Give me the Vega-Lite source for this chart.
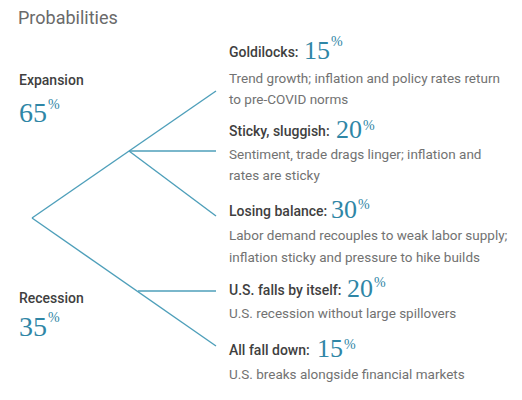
{
  "$schema": "https://vega.github.io/schema/vega-lite/v6.json",
  "width": 522,
  "height": 400,
  "autosize": {"type": "fit", "contains": "padding"},
  "padding": 0,
  "background": "white",
  "config": {"view": {"stroke": null}},
  "datasets": {
    "edges": [
      {"from": "root", "to": "Goldilocks", "x": 32, "y": 218, "x2": 216, "y2": 91},
      {"from": "Expansion", "to": "Sticky, sluggish", "x": 129, "y": 151, "x2": 216, "y2": 151},
      {"from": "Expansion", "to": "Losing balance", "x": 129, "y": 151, "x2": 216, "y2": 216},
      {"from": "root", "to": "All fall down", "x": 32, "y": 218, "x2": 216, "y2": 346},
      {"from": "Recession", "to": "U.S. falls by itself", "x": 138, "y": 291, "x2": 216, "y2": 291}
    ],
    "labels": [
      {"role": "title", "x": 18, "y": 24, "text": "Probabilities"},
      {"role": "branch", "x": 19, "y": 85, "text": "Expansion"},
      {"role": "branch", "x": 19, "y": 303, "text": "Recession"},
      {"role": "branchnum", "x": 19, "y": 122, "text": "65"},
      {"role": "branchnum", "x": 19, "y": 336, "text": "35"},
      {"role": "branchpct", "x": 48, "y": 109, "text": "%"},
      {"role": "branchpct", "x": 48, "y": 322, "text": "%"},
      {"role": "scen", "x": 229, "y": 57, "text": "Goldilocks:"},
      {"role": "scen", "x": 229, "y": 136, "text": "Sticky, sluggish:"},
      {"role": "scen", "x": 229, "y": 216, "text": "Losing balance:"},
      {"role": "scen", "x": 229, "y": 295, "text": "U.S. falls by itself:"},
      {"role": "scen", "x": 229, "y": 355, "text": "All fall down:"},
      {"role": "scennum", "x": 304, "y": 59, "text": "15"},
      {"role": "scennum", "x": 336, "y": 138, "text": "20"},
      {"role": "scennum", "x": 331, "y": 218, "text": "30"},
      {"role": "scennum", "x": 347, "y": 297, "text": "20"},
      {"role": "scennum", "x": 317, "y": 357, "text": "15"},
      {"role": "scenpct", "x": 331, "y": 46, "text": "%"},
      {"role": "scenpct", "x": 363, "y": 130, "text": "%"},
      {"role": "scenpct", "x": 358, "y": 209, "text": "%"},
      {"role": "scenpct", "x": 374, "y": 287, "text": "%"},
      {"role": "scenpct", "x": 344, "y": 349, "text": "%"},
      {"role": "desc", "x": 229, "y": 83, "text": "Trend growth; inflation and policy rates return"},
      {"role": "desc", "x": 229, "y": 104, "text": "to pre-COVID norms"},
      {"role": "desc", "x": 229, "y": 159, "text": "Sentiment, trade drags linger; inflation and"},
      {"role": "desc", "x": 229, "y": 180, "text": "rates are sticky"},
      {"role": "desc", "x": 229, "y": 240, "text": "Labor demand recouples to weak labor supply;"},
      {"role": "desc", "x": 229, "y": 262, "text": "inflation sticky and pressure to hike builds"},
      {"role": "desc", "x": 229, "y": 318, "text": "U.S. recession without large spillovers"},
      {"role": "desc", "x": 229, "y": 379, "text": "U.S. breaks alongside financial markets"}
    ]
  },
  "layer": [
    {
      "data": {"name": "edges"},
      "mark": {"type": "rule", "color": "#4e9fba", "strokeWidth": 1.4},
      "encoding": {
        "x": {"field": "x", "type": "quantitative", "scale": {"domain": [0, 522], "nice": false, "zero": false}, "axis": null},
        "y": {"field": "y", "type": "quantitative", "scale": {"domain": [0, 400], "nice": false, "zero": false, "reverse": true}, "axis": null},
        "x2": {"field": "x2"},
        "y2": {"field": "y2"}
      }
    },
    {
      "data": {"name": "labels"},
      "transform": [{"filter": "datum.role == 'title'"}],
      "mark": {"type": "text", "align": "left", "baseline": "alphabetic", "font": "Roboto", "fontSize": 18, "color": "#6a6a6a"},
      "encoding": {
        "x": {"field": "x", "type": "quantitative"},
        "y": {"field": "y", "type": "quantitative"},
        "text": {"field": "text"}
      }
    },
    {
      "data": {"name": "labels"},
      "transform": [{"filter": "datum.role == 'branch' || datum.role == 'scen'"}],
      "mark": {"type": "text", "align": "left", "baseline": "alphabetic", "font": "Roboto", "fontSize": 14, "fontWeight": 500, "color": "#3f3f3f"},
      "encoding": {
        "x": {"field": "x", "type": "quantitative"},
        "y": {"field": "y", "type": "quantitative"},
        "text": {"field": "text"}
      }
    },
    {
      "data": {"name": "labels"},
      "transform": [{"filter": "datum.role == 'desc'"}],
      "mark": {"type": "text", "align": "left", "baseline": "alphabetic", "font": "Roboto", "fontSize": 13.5, "color": "#727272"},
      "encoding": {
        "x": {"field": "x", "type": "quantitative"},
        "y": {"field": "y", "type": "quantitative"},
        "text": {"field": "text"}
      }
    },
    {
      "data": {"name": "labels"},
      "transform": [{"filter": "datum.role == 'branchnum'"}],
      "mark": {"type": "text", "align": "left", "baseline": "alphabetic", "font": "Liberation Serif", "fontSize": 28, "color": "#2f86a6"},
      "encoding": {
        "x": {"field": "x", "type": "quantitative"},
        "y": {"field": "y", "type": "quantitative"},
        "text": {"field": "text"}
      }
    },
    {
      "data": {"name": "labels"},
      "transform": [{"filter": "datum.role == 'scennum'"}],
      "mark": {"type": "text", "align": "left", "baseline": "alphabetic", "font": "Liberation Serif", "fontSize": 26, "color": "#2f86a6"},
      "encoding": {
        "x": {"field": "x", "type": "quantitative"},
        "y": {"field": "y", "type": "quantitative"},
        "text": {"field": "text"}
      }
    },
    {
      "data": {"name": "labels"},
      "transform": [{"filter": "datum.role == 'branchpct' || datum.role == 'scenpct'"}],
      "mark": {"type": "text", "align": "left", "baseline": "alphabetic", "font": "Liberation Serif", "fontSize": 14, "color": "#2f86a6"},
      "encoding": {
        "x": {"field": "x", "type": "quantitative"},
        "y": {"field": "y", "type": "quantitative"},
        "text": {"field": "text"}
      }
    }
  ]
}
